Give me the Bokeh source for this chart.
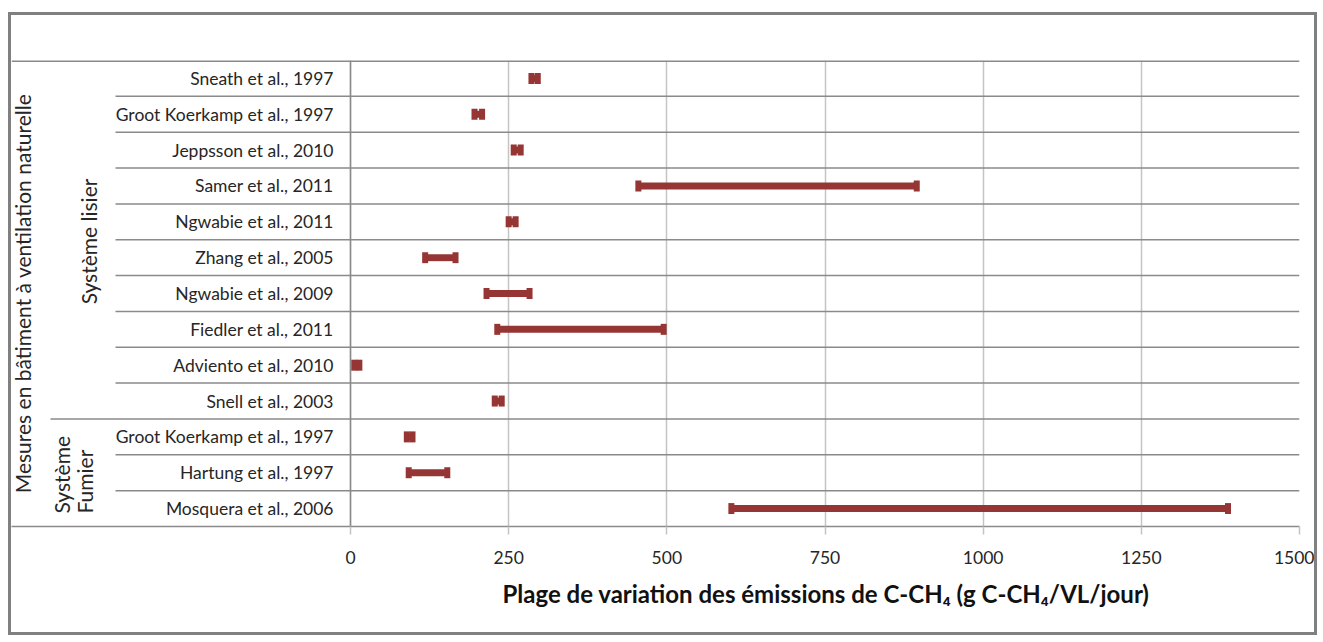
import math
from bokeh.plotting import figure
from bokeh.models import Range1d, FixedTicker, ColumnDataSource, Title
from bokeh.core.properties import value
from bokeh.embed import file_html
from bokeh.resources import INLINE

# ---------------- data ----------------
studies = [
    "Sneath et al., 1997",
    "Groot Koerkamp et al., 1997",
    "Jeppsson et al., 2010",
    "Samer et al., 2011",
    "Ngwabie et al., 2011",
    "Zhang et al., 2005",
    "Ngwabie et al., 2009",
    "Fiedler et al., 2011",
    "Adviento et al., 2010",
    "Snell et al., 2003",
    "Groot Koerkamp et al., 1997",
    "Hartung et al., 1997",
    "Mosquera et al., 2006",
]
low = [286, 196, 258, 455, 250, 118, 215, 232, 6, 228, 89, 92, 602]
high = [296, 208, 269, 895, 261, 166, 283, 495, 14, 239, 98, 153, 1387]
tick_values = [0, 250, 500, 750, 1000, 1250, 1500]
group_main = "Mesures en bâtiment à ventilation naturelle"
group_lisier = "Système lisier"
group_fumier = ["Système", "Fumier"]
x_title = "Plage de variation des émissions de C-CH\u2084 (g C-CH\u2084/VL/jour)"

# ---------------- layout (canvas pixels) ----------------
W, H = 1309, 623
FRAME_L, FRAME_R, FRAME_T, FRAME_B = 0, 1288, 45, 511
X0_PX = 339
N = len(studies)
scale = (FRAME_R - X0_PX) / 1500.0
rowh = (FRAME_B - FRAME_T) / N


def xd(px):
    return (px - X0_PX) / scale


def yd(py):
    return N - (py - FRAME_T) / rowh


FONT = value("Lato")
TXT = "#262626"
BAR = "#963634"
GRID = "#c4c4c4"
LINE = "#8a8a8a"

p = figure(
    width=W, height=H, output_backend="svg", toolbar_location=None,
    x_range=Range1d(xd(FRAME_L), 1500), y_range=Range1d(0, N),
    y_axis_type=None,
    min_border_left=FRAME_L, min_border_right=W - FRAME_R,
    min_border_top=FRAME_T, min_border_bottom=H - FRAME_B,
)
p.styles = {"border": "3px solid #808080", "margin-left": "8px", "margin-top": "12px"}
p.title.visible = False
p.outline_line_color = None
p.background_fill_color = "white"
p.border_fill_color = "white"

ax = p.xaxis[0]
ax.ticker = FixedTicker(ticks=tick_values)
ax.axis_line_color = LINE
ax.axis_line_width = 1.5
ax.major_tick_in = 0
ax.major_tick_out = 8
ax.major_tick_line_color = GRID
ax.major_tick_line_width = 1.5
ax.minor_tick_line_color = None
ax.major_label_standoff = 16
ax.major_label_text_font = "Lato"
ax.major_label_text_font_size = "17.5px"
ax.major_label_text_color = TXT

# axis title, placed under the data area (0..1500)
p.add_layout(Title(text=x_title, align="left", offset=491,
                   text_font="Lato", text_font_style="bold",
                   text_font_size="24px", text_color="#111111",
                   standoff=21), "below")

p.xgrid.grid_line_color = GRID
p.xgrid.grid_line_width = 1.5

ys = [N - 0.5 - i for i in range(N)]
src = ColumnDataSource(dict(y=ys, low=low, high=high, name=studies))

# row separator lines
row_y = [float(k) for k in range(1, N)]
row_x0 = [xd(39) if k == 3 else xd(104) for k in range(1, N)]
p.segment(x0=row_x0, y0=row_y, x1=[1500] * len(row_y), y1=row_y,
          line_color=LINE, line_width=1.5)
# top line
p.segment(x0=[xd(FRAME_L)], y0=[N], x1=[1500], y1=[N], line_color=LINE, line_width=3)
# zero axis line
p.segment(x0=[0], y0=[0], x1=[0], y1=[N], line_color=LINE, line_width=1.5)

# range bars
p.segment(x0="low", y0="y", x1="high", y1="y", source=src,
          line_color=BAR, line_width=7, line_cap="butt")
for col in ("low", "high"):
    p.rect(x=col, y="y", width=6, height=11, width_units="screen",
           height_units="screen", source=src, fill_color=BAR,
           line_color=None)

# study labels
p.text(x=xd(322), y="y", text="name", source=src, text_align="right",
       text_baseline="middle", text_font=FONT, text_font_size="17.5px",
       text_color=TXT)

# group labels
p.text(x=[xd(11)], y=[yd(278)], text=[group_main], angle=math.pi / 2,
       text_align="center", text_baseline="middle", text_font=FONT,
       text_font_size="21px", text_color=TXT)
p.text(x=[xd(77)], y=[yd(226)], text=[group_lisier], angle=math.pi / 2,
       text_align="center", text_baseline="middle", text_font=FONT,
       text_font_size="21px", text_color=TXT)
p.text(x=[xd(50), xd(73)], y=[yd(498), yd(498)], text=group_fumier,
       angle=math.pi / 2, text_align="left", text_baseline="middle",
       text_font=FONT, text_font_size="21px", text_color=TXT)

open("out.html", "w").write(file_html(p, INLINE))
